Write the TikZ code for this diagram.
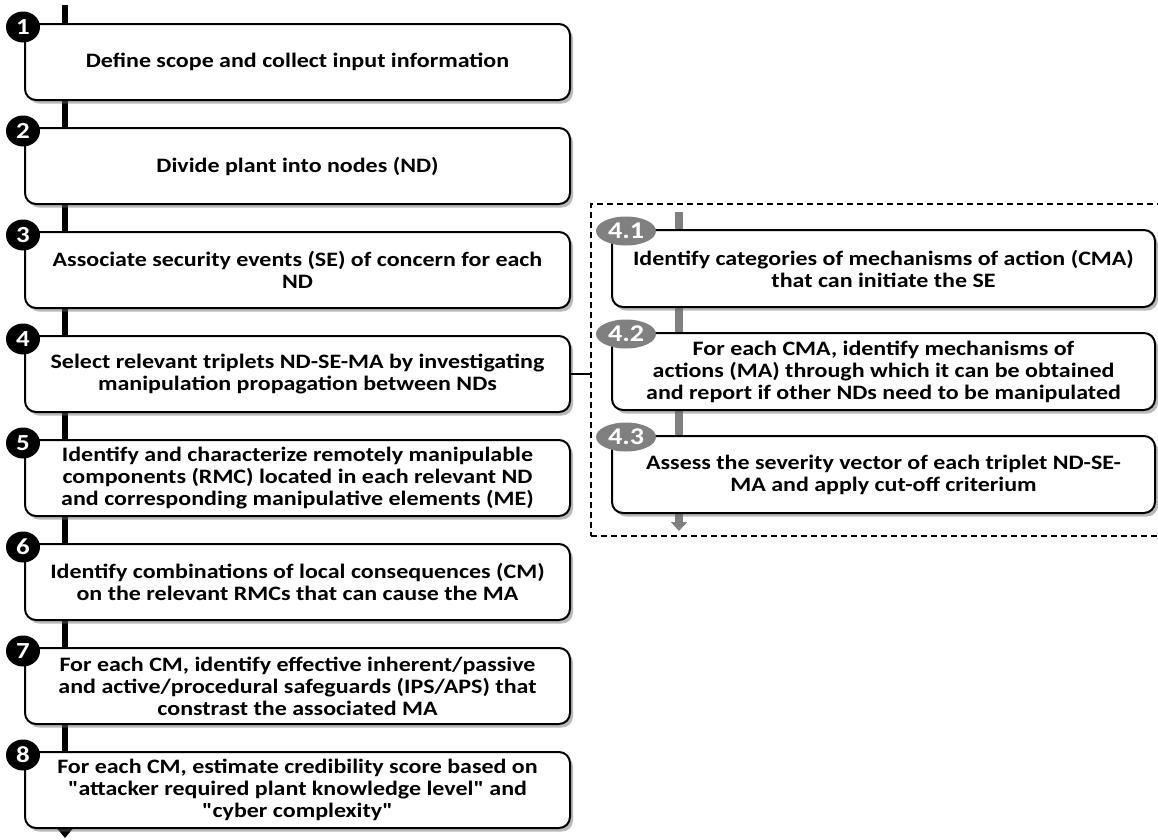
\documentclass[tikz,border=0pt]{standalone}
\usepackage{fontspec}
\setmainfont{Carlito}[FakeStretch=1.17,Ligatures=TeXOff]
\usetikzlibrary{arrows.meta,positioning,shapes.geometric,shadows}

\begin{document}
\begin{tikzpicture}[x=1pt,y=-1pt,node distance=26pt,
    stepbox/.style={draw, line width=2pt, rounded corners=11pt, fill=white,
      minimum width=545pt, minimum height=76pt, align=center, inner sep=2pt,
      font=\fontsize{20.5}{22}\selectfont\bfseries,
      drop shadow={shadow xshift=3pt, shadow yshift=-3.5pt, opacity=0.45, fill=black!60}},
    substep/.style={stepbox, minimum width=543pt, minimum height=77pt},
    stepnum/.style={ellipse, fill=black, text=white, inner sep=0pt,
      minimum width=34pt, minimum height=31pt, font=\fontsize{23}{23}\selectfont\bfseries},
    subnum/.style={ellipse, fill=black!50, text=white, inner sep=0pt,
      minimum width=60pt, minimum height=29pt, font=\fontsize{24}{24}\selectfont\bfseries},
    spine/.style={line width=6pt, -{Triangle[width=16pt,length=10pt]}},
    subspine/.style={line width=8pt, draw=black!50, -{Triangle[width=16pt,length=9pt]}},
    frame/.style={draw, dashed, dash pattern=on 6pt off 4pt, line width=1.8pt,
      minimum width=575pt, minimum height=332pt, inner sep=0pt}]
  \useasboundingbox (0,0) rectangle (1158,839);

  % main sequence
  \coordinate (top) at (65,5);
  \coordinate (end) at (65,838);
  \draw[spine] (top) -- (end);

  \node[stepbox]             (S1) at (297.5,62) {Define scope and collect input information};
  \node[stepbox, below=of S1] (S2) {Divide plant into nodes (ND)};
  \node[stepbox, below=of S2] (S3) {Associate security events (SE) of concern for each\\ND};
  \node[stepbox, below=of S3] (S4) {Select relevant triplets ND-SE-MA by investigating\\manipulation propagation between NDs};
  \node[stepbox, below=of S4] (S5) {Identify and characterize remotely manipulable\\components (RMC) located in each relevant ND\\and corresponding manipulative elements (ME)};
  \node[stepbox, below=of S5] (S6) {Identify combinations of local consequences (CM)\\on the relevant RMCs that can cause the MA};
  \node[stepbox, below=of S6] (S7) {For each CM, identify effective inherent/passive\\and active/procedural safeguards (IPS/APS) that\\constrast the associated MA};
  \node[stepbox, below=of S7] (S8) {For each CM, estimate credibility score based on\\"attacker required plant knowledge level" and\\"cyber complexity"};

  \node[stepnum] (N1) at ([xshift=-1pt,yshift=-4pt]S1.north west) {1};
  \node[stepnum] (N2) at ([xshift=-1pt,yshift=-4pt]S2.north west) {2};
  \node[stepnum] (N3) at ([xshift=-1pt,yshift=-4pt]S3.north west) {3};
  \node[stepnum] (N4) at ([xshift=-1pt,yshift=-4pt]S4.north west) {4};
  \node[stepnum] (N5) at ([xshift=-1pt,yshift=-4pt]S5.north west) {5};
  \node[stepnum] (N6) at ([xshift=-1pt,yshift=-4pt]S6.north west) {6};
  \node[stepnum] (N7) at ([xshift=-1pt,yshift=-4pt]S7.north west) {7};
  \node[stepnum] (N8) at ([xshift=-1pt,yshift=-4pt]S8.north west) {8};

  % detail of step 4
  \node[frame, anchor=north west] (sub) at (590,203) {};
  \coordinate (subtop) at (679,212);
  \coordinate (subend) at (679,531);
  \draw[subspine] (subtop) -- (subend);

  \node[substep]                        (S41) at (883.5,268.5) {Identify categories of mechanisms of action (CMA)\\that can initiate the SE};
  \node[substep, below=24pt of S41]     (S42) {For each CMA, identify mechanisms of\\actions (MA) through which it can be obtained\\and report if other NDs need to be manipulated};
  \node[substep, below=24pt of S42]     (S43) {Assess the severity vector of each triplet ND-SE-\\MA and apply cut-off criterium};

  \node[subnum] (N41) at ([xshift=15pt,yshift=-2pt]S41.north west) {4.1};
  \node[subnum] (N42) at ([xshift=15pt,yshift=-2pt]S42.north west) {4.2};
  \node[subnum] (N43) at ([xshift=15pt,yshift=-2pt]S43.north west) {4.3};

  \draw[line width=1.2pt] (S4.east) -- (S4.east -| sub.west);
\end{tikzpicture}
\end{document}
